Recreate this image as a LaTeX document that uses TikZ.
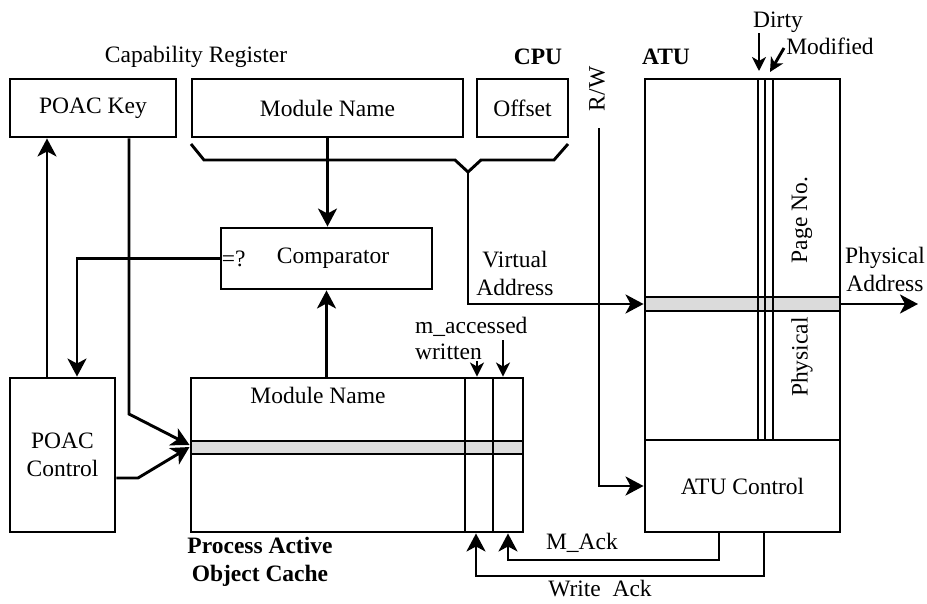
\documentclass[tikz,border=0pt]{standalone}
\usepackage{fontspec}
\setmainfont{Liberation Serif}
\usetikzlibrary{arrows.meta, positioning, calc}

\tikzset{
  box/.style={draw, rectangle, line width=2.9pt, inner sep=0pt},
  ln/.style={line width=2.9pt},
  band/.style={draw, line width=2.9pt, fill=gray!28},
  arr/.style={line width=2.9pt, -{Stealth[length=18pt, width=19pt, inset=5pt]}},
  sarr/.style={line width=2.9pt, -{Stealth[length=14pt, width=14pt, inset=4pt]}},
  hdr/.style={font=\fontsize{23.5}{28}\selectfont\bfseries},
}

\begin{document}
\begin{tikzpicture}[x=1pt, y=-1pt, font=\fontsize{23.5}{28}\selectfont]
    \useasboundingbox (0,0) rectangle (927,603);

    % Capability Register and CPU
    \node (capreg) at (196,57) {Capability Register};
    \node[hdr] (cpu) at (538,57) {CPU};
    \node[box, minimum width=166, minimum height=58] (key) at (93,108) {POAC Key};
    \node[box, minimum width=271, minimum height=58] (cmn) at (327.5,108) {Module Name};
    \node[box, minimum width=91, minimum height=58] (off) at (522.5,108) {Offset};
    \coordinate (va) at (468,172);
    \draw[ln] (191,144) -- (204,160) -- (455,160) -- (va) -- (481,160) -- (554,160) -- (568,144);

    % Comparator
    \node[box, minimum width=211, minimum height=61] (cmp) at (326.5,258.5) {};
    \node[anchor=west, inner sep=2pt] (eq) at (cmp.west) {=?};
    \node (cmplbl) at (333,258) {Comparator};

    % POAC Control
    \node[box, minimum width=105, minimum height=154, align=center] (ctl) at (62.5,455) {POAC\\Control};

    % Process Active Object Cache
    \node[box, minimum width=332, minimum height=154] (poac) at (357,455) {};
    \draw[band] (191,441) rectangle (523,454);
    \draw[ln] (465,378) -- (465,532);
    \draw[ln] (493,378) -- (493,532);
    \node (poacname) at (318,395) {Module Name};
    \node[hdr, align=center] (poaclbl) at (260,562) {Process Active\\Object Cache};
    \node[anchor=west, align=left, inner sep=0pt] (macc) at (415,327) {m\_accessed};
    \node[anchor=west, align=left, inner sep=0pt] (wrt) at (415,352) {written};
    \draw[sarr] (477,361) -- (477,0 |- poac.north);
    \draw[sarr] (503,340) -- (503,0 |- poac.north);

    % ATU
    \node[hdr] (atulbl) at (666,57) {ATU};
    \node[box, minimum width=195, minimum height=361] (atu) at (742.5,259.5) {};
    \node[box, minimum width=195, minimum height=92] (atuctl) at (742.5,486) {ATU Control};
    \draw[band] (645,297) rectangle (840,311);
    \draw[ln] (758,79) rectangle (765,440);
    \draw[ln] (765,79) rectangle (773,440);
    \node[rotate=90] (phys) at (802,357) {Physical};
    \node[rotate=90] (pgno) at (802,220) {Page No.};
    \node (dirty) at (778,22) {Dirty};
    \node (modif) at (830,46) {Modified};
    \draw[sarr] (759,33) -- (759,71);
    \draw[sarr] (784,48) -- (770,72);

    % R/W
    \node[rotate=90] (rw) at (597,89) {R/W};
    \coordinate (rwin) at (599,128);

    % Arrows
    \draw[arr] (cmn.south) -- (cmn.south |- cmp.north);
    \draw[arr] (cmp.south |- poac.north) -- (cmp.south);
    \draw[arr] (cmp.west) -- (77,0 |- cmp.west) -- (77,0 |- ctl.north);
    \draw[arr] (47,0 |- ctl.north) -- (47,0 |- key.south);
    \draw[arr] (129,0 |- key.south) -- (129,414) -- (poac.west |- 0,445);
    \draw[arr] (ctl.east |- 0,478) -- (138,478) -- (poac.west |- 0,447);
    \draw[arr] (va) -- (va |- 0,304) -- (atu.west |- 0,304);
    \coordinate (paout) at (918,304);
    \draw[arr] (atu.east |- paout) -- (paout);
    \draw[arr] (rwin) -- (rwin |- atuctl.west) -- (atuctl.west);
    \draw[arr] (719,0 |- atuctl.south) -- (719,560) -- (508,560) -- (508,0 |- poac.south);
    \draw[arr] (764,0 |- atuctl.south) -- (764,576) -- (476,576) -- (476,0 |- poac.south);

    % Labels
    \node[align=center] (vaddr) at (515,273) {Virtual\\Address};
    \node[align=center] (paddr) at (885,269) {Physical\\Address};
    \node (mack) at (582,543) {M\_Ack};
    \node[inner sep=1pt] (wack) at (600,589) {Write~~Ack};
\end{tikzpicture}
\end{document}
